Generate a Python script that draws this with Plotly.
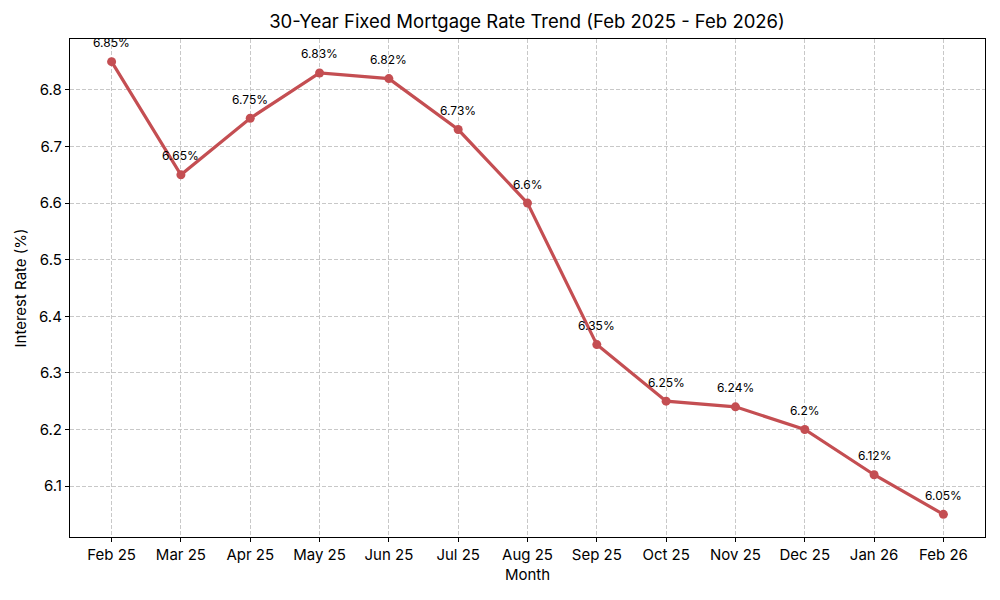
import plotly.graph_objects as go

months = ["Feb 25", "Mar 25", "Apr 25", "May 25", "Jun 25", "Jul 25", "Aug 25",
          "Sep 25", "Oct 25", "Nov 25", "Dec 25", "Jan 26", "Feb 26"]
rates = [6.85, 6.65, 6.75, 6.83, 6.82, 6.73, 6.60, 6.35, 6.25, 6.24, 6.20, 6.12, 6.05]
labels = ["6.85%", "6.65%", "6.75%", "6.83%", "6.82%", "6.73%", "6.6%",
          "6.35%", "6.25%", "6.24%", "6.2%", "6.12%", "6.05%"]
yticks = [6.1, 6.2, 6.3, 6.4, 6.5, 6.6, 6.7, 6.8]

FONT = "Inter, Roboto, sans-serif"
RED = "#C44E52"

x_idx = list(range(len(months)))

fig = go.Figure()
fig.add_trace(go.Scatter(
    x=x_idx, y=rates, mode="lines+markers",
    line=dict(color=RED, width=3.2),
    marker=dict(color=RED, size=9),
    hoverinfo="skip", showlegend=False,
))
for xi, yv, lab in zip(x_idx, rates, labels):
    fig.add_annotation(x=xi, y=yv, text=lab, showarrow=False,
                       yshift=19, font=dict(family=FONT, size=12, color="black"))

axis_common = dict(
    showline=True, linecolor="black", linewidth=1.2, mirror=True,
    ticks="outside", ticklen=4, tickcolor="black", tickwidth=1,
    showgrid=True, gridcolor="#c8c8c8", griddash="4px,2px", gridwidth=1,
    zeroline=False, automargin=False,
    tickfont=dict(family=FONT, size=15, color="black"),
)

fig.update_layout(
    width=1000, height=600,
    paper_bgcolor="white", plot_bgcolor="white",
    margin=dict(l=62, r=23, t=31, b=71),
    title=dict(text="30-Year Fixed Mortgage Rate Trend (Feb 2025 - Feb 2026)",
               x=0.519, xanchor="center", y=0.977, yanchor="middle",
               font=dict(family=FONT, size=18.5, color="black")),
    xaxis=dict(range=[-0.6, 12.6], tickmode="array", tickvals=x_idx, ticktext=months,
               title=dict(text="Month", font=dict(family=FONT, size=15, color="black"), standoff=6),
               **axis_common),
    yaxis=dict(range=[6.01, 6.89], tickmode="array", tickvals=yticks,
               ticktext=[f"{v:.1f}" for v in yticks],
               title=dict(text="Interest Rate (%)", font=dict(family=FONT, size=15, color="black"), standoff=8),
               **axis_common),
)

fig.write_html("out.html")
